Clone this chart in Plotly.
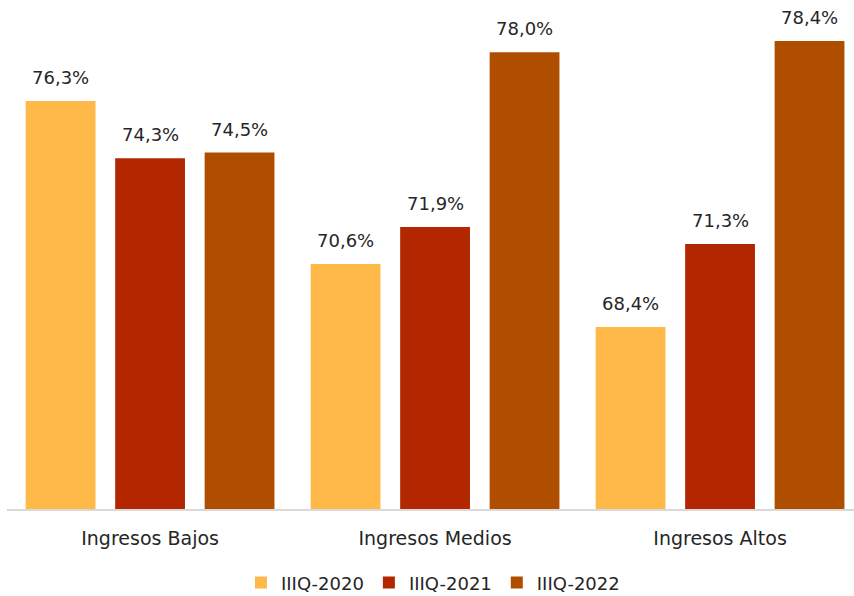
import plotly.graph_objects as go

categories = ["Ingresos Bajos", "Ingresos Medios", "Ingresos Altos"]
series_names = ["IIIQ-2020", "IIIQ-2021", "IIIQ-2022"]
values_2020 = [76.3, 70.6, 68.4]
values_2021 = [74.3, 71.9, 71.3]
values_2022 = [74.5, 78.0, 78.4]
colors = ["#FEB948", "#B22600", "#B04E00"]

FONT = "'DejaVu Sans', sans-serif"
TEXT_COLOR = "#262626"

all_values = [values_2020, values_2021, values_2022]

# pixel offset of each series' bar centre from its category centre
slot_px = 89.5
offsets = [-slot_px, 0, slot_px]

fig = go.Figure()
for name, vals, col, dx in zip(series_names, all_values, colors, offsets):
    fig.add_trace(go.Bar(
        name=name,
        x=categories,
        y=vals,
        marker=dict(color=col, line=dict(width=0)),
    ))
    for cat, v in zip(categories, vals):
        fig.add_annotation(
            x=cat, y=v, xref="x", yref="y",
            text=f"{v:.1f}%".replace(".", ","),
            showarrow=False,
            xanchor="center", yanchor="bottom",
            xshift=dx, yshift=11,
            font=dict(family=FONT, size=18, color=TEXT_COLOR),
        )

fig.update_layout(
    barmode="group",
    bargap=0.058,
    bargroupgap=0.22,
    width=854,
    height=596,
    margin=dict(l=7, r=0, t=0, b=87),
    paper_bgcolor="white",
    plot_bgcolor="white",
    font=dict(family=FONT, color=TEXT_COLOR),
    showlegend=True,
    legend=dict(
        orientation="h",
        xref="container",
        x=0.507,
        xanchor="center",
        yref="container",
        y=0.022,
        yanchor="middle",
        font=dict(family=FONT, size=18, color=TEXT_COLOR),
        itemwidth=30,
        traceorder="normal",
    ),
    xaxis=dict(
        range=[-0.502, 2.47],
        showline=True,
        linecolor="#D9D9D9",
        linewidth=2,
        ticks="",
        showgrid=False,
        tickfont=dict(family=FONT, size=19, color=TEXT_COLOR),
        ticklabelstandoff=11,
    ),
    yaxis=dict(
        range=[62.04, 79.83],
        visible=False,
        showgrid=False,
    ),
)

fig.write_html("out.html")
